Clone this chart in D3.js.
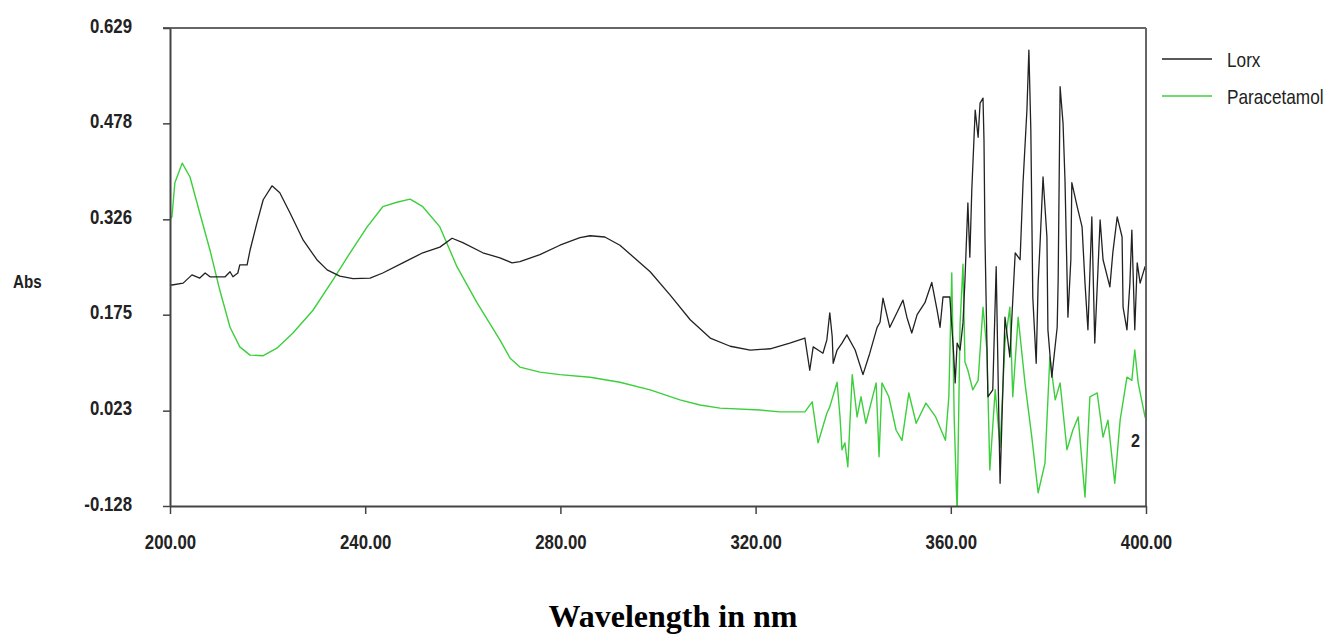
<!DOCTYPE html>
<html>
<head>
<meta charset="utf-8">
<script src="https://cdn.jsdelivr.net/npm/d3@7"></script>
<style>
  html, body { margin: 0; padding: 0; background: #fff; }
  svg { display: block; }
  .tick text, .lbl { font-family: "Liberation Sans", Arial, sans-serif; fill: #222; }
</style>
</head>
<body>
<svg id="chart" width="1332" height="636"></svg>
<script>
// ---------- data ----------
const seriesNames = ["Lorx", "Paracetamol"];

const lorxWavelength = [200.0,200.4,202.7,204.5,206.1,207.2,208.2,211.3,212.3,212.9,213.9,214.3,215.8,216.4,217.8,219.1,220.9,222.5,224.6,227.3,230.1,232.2,234.8,237.5,241.0,243.6,247.7,251.8,255.3,257.8,260.0,264.1,267.6,270.1,271.7,275.8,279.9,284.0,286.1,289.1,292.2,298.4,302.5,306.6,310.7,314.8,318.9,323.0,327.0,330.1,
  331.1,331.8,332.8,333.8,334.6,335.2,335.7,335.9,336.7,337.7,338.7,340.4,342.0,343.4,344.9,345.5,346.1,347.5,349.2,350.2,351.0,352.0,353.1,354.7,356.1,357.2,357.8,358.4,359.8,360.5,360.9,361.3,361.9,362.5,362.9,363.5,363.9,364.3,365.0,365.6,366.0,366.6,366.8,367.0,367.6,368.6,369.3,369.8,370.1,371.1,372.1,373.2,374.2,374.8,375.6,376.0,376.4,376.8,377.5,377.9,378.3,378.9,379.7,379.9,380.7,381.8,382.0,382.4,383.0,383.4,384.0,384.6,384.8,385.9,386.9,387.5,388.1,388.9,389.5,390.6,391.2,392.6,393.2,394.1,395.1,395.3,396.1,396.7,397.1,397.7,398.2,398.8,399.8,400.0];
const lorxAbs = [0.222,0.222,0.225,0.238,0.233,0.241,0.235,0.235,0.243,0.235,0.241,0.254,0.254,0.277,0.320,0.357,0.379,0.368,0.336,0.293,0.262,0.246,0.236,0.232,0.233,0.241,0.257,0.273,0.282,0.296,0.289,0.273,0.265,0.257,0.259,0.270,0.285,0.297,0.300,0.298,0.285,0.243,0.206,0.167,0.138,0.125,0.119,0.121,0.130,0.138,
  0.087,0.124,0.119,0.114,0.135,0.178,0.140,0.098,0.119,0.130,0.143,0.119,0.080,0.114,0.155,0.163,0.201,0.155,0.182,0.198,0.171,0.146,0.175,0.194,0.226,0.182,0.155,0.203,0.203,0.124,0.067,0.130,0.119,0.162,0.230,0.352,0.266,0.372,0.499,0.456,0.510,0.518,0.452,0.298,0.045,0.056,0.251,0.030,-0.092,0.171,0.108,0.273,0.262,0.384,0.499,0.594,0.467,0.203,0.098,0.225,0.289,0.393,0.298,0.151,0.076,0.155,0.230,0.536,0.478,0.388,0.171,0.262,0.384,0.346,0.314,0.225,0.151,0.330,0.130,0.325,0.262,0.219,0.273,0.330,0.298,0.187,0.151,0.225,0.309,0.151,0.257,0.225,0.251,0.245];

const paraWavelength = [200.0,200.4,201.0,202.5,204.1,206.1,208.2,210.2,212.3,214.3,216.4,219.1,221.9,225.2,229.3,233.4,236.9,240.4,243.6,246.5,249.2,251.8,255.3,258.8,262.9,267.6,269.7,271.7,275.8,279.9,286.1,292.2,298.4,304.5,308.6,312.7,320.9,325.0,330.1,
  331.6,332.8,334.6,335.2,336.7,337.3,337.7,338.3,338.9,339.8,340.8,341.6,342.6,344.7,345.3,345.9,347.3,348.8,350.0,351.4,352.9,354.9,356.9,358.9,359.6,360.2,360.7,361.3,361.9,362.5,362.9,363.5,364.5,365.6,366.6,367.4,368.0,369.1,370.1,371.1,372.1,372.7,373.8,375.2,376.6,377.9,379.3,380.3,381.4,382.4,383.8,385.0,386.1,387.5,388.5,390.0,391.2,392.2,393.6,394.7,396.1,397.1,397.7,398.4,399.8,400.0];
const paraAbs = [0.326,0.330,0.384,0.415,0.393,0.336,0.277,0.214,0.155,0.124,0.111,0.110,0.122,0.146,0.182,0.230,0.273,0.314,0.346,0.353,0.358,0.346,0.314,0.251,0.194,0.135,0.106,0.092,0.084,0.080,0.076,0.068,0.056,0.040,0.032,0.027,0.024,0.021,0.021,
  0.037,-0.028,0.019,0.029,0.068,0.013,-0.039,-0.028,-0.066,0.080,0.013,0.045,0.003,0.067,-0.050,0.067,0.045,-0.008,-0.024,0.051,0.003,0.035,0.013,-0.024,0.045,0.241,0.010,-0.140,0.160,0.255,0.100,0.087,0.056,0.071,0.187,0.119,-0.071,0.056,-0.035,0.130,0.187,0.045,0.171,0.067,-0.019,-0.107,-0.060,0.108,0.040,0.067,-0.039,-0.008,0.013,-0.114,0.045,0.051,-0.019,0.008,-0.092,0.008,0.076,0.071,0.119,0.067,0.013,0.010];

const yTickValues = [-0.128, 0.023, 0.175, 0.326, 0.478, 0.629];
const yTickLabels = ["-0.128", "0.023", "0.175", "0.326", "0.478", "0.629"];
const xTickValues = [200, 240, 280, 320, 360, 400];
const xTickLabels = ["200.00", "240.00", "280.00", "320.00", "360.00", "400.00"];

// ---------- layout ----------
const plot = { left: 170, top: 28, right: 1146, bottom: 506 };
const colors = { Lorx: "#222222", Paracetamol: "#3ccf3c" };

const svg = d3.select("#chart");
const x = d3.scaleLinear().domain([200, 400]).range([plot.left, plot.right]);
const y = d3.scaleLinear().domain([-0.128, 0.629]).range([plot.bottom, plot.top]);

// narrow the glyphs (the original uses a condensed bitmap font)
function narrow(sel, f) {
  sel.each(function () {
    const w = this.getComputedTextLength();
    d3.select(this).attr("textLength", w * f).attr("lengthAdjust", "spacingAndGlyphs");
  });
}

svg.append("defs").append("clipPath").attr("id", "clip")
  .append("rect").attr("x", plot.left).attr("y", plot.top)
  .attr("width", plot.right - plot.left).attr("height", plot.bottom - plot.top);

const line = d3.line().x(d => x(d[0])).y(d => y(d[1]));
const lorx = d3.zip(lorxWavelength, lorxAbs);
const para = d3.zip(paraWavelength, paraAbs);

const g = svg.append("g").attr("clip-path", "url(#clip)");
g.append("path").datum(para).attr("d", line)
  .attr("fill", "none").attr("stroke", colors.Paracetamol).attr("stroke-width", 1.4).attr("stroke-linejoin", "round");
g.append("path").datum(lorx).attr("d", line)
  .attr("fill", "none").attr("stroke", colors.Lorx).attr("stroke-width", 1.3).attr("stroke-linejoin", "round");

// frame: top and right
svg.append("line").attr("x1", plot.left - 7).attr("x2", plot.right).attr("y1", plot.top).attr("y2", plot.top)
  .attr("stroke", "#333").attr("stroke-width", 1.5);
svg.append("line").attr("x1", plot.right).attr("x2", plot.right).attr("y1", plot.top).attr("y2", plot.bottom)
  .attr("stroke", "#666").attr("stroke-width", 2);

// axes
const yAxis = d3.axisLeft(y).tickValues(yTickValues)
  .tickFormat((d, i) => yTickLabels[i]).tickSize(7).tickPadding(31).tickSizeOuter(0);
const ya = svg.append("g").attr("transform", `translate(${plot.left},0)`).call(yAxis);
ya.select(".domain").attr("stroke", "#444").attr("stroke-width", 2);
ya.selectAll(".tick line").attr("stroke", "#444").attr("stroke-width", 1.5);
ya.selectAll(".tick text").attr("font-size", 21).attr("dy", "0.2em").attr("font-weight", "bold")
  .call(narrow, 0.8);

const xAxis = d3.axisBottom(x).tickValues(xTickValues)
  .tickFormat((d, i) => xTickLabels[i]).tickSize(8).tickPadding(20).tickSizeOuter(0);
const xa = svg.append("g").attr("transform", `translate(0,${plot.bottom})`).call(xAxis);
xa.select(".domain").attr("stroke", "#444").attr("stroke-width", 2);
xa.selectAll(".tick line").attr("stroke", "#444").attr("stroke-width", 1.5);
xa.selectAll(".tick text").attr("font-size", 21).attr("font-weight", "bold")
  .call(narrow, 0.8);

// axis titles
svg.append("text").attr("class", "lbl").attr("x", 13).attr("y", 288)
  .attr("font-size", 19).attr("font-weight", "bold").text("Abs").call(narrow, 0.8);
svg.append("text").attr("x", 673).attr("y", 627).attr("text-anchor", "middle")
  .attr("font-family", "'Liberation Serif', 'Times New Roman', serif")
  .attr("font-weight", "bold").attr("font-size", 32).attr("fill", "#000")
  .text("Wavelength in nm");

// annotation "2"
svg.append("text").attr("class", "lbl").attr("x", 1131).attr("y", 447)
  .attr("font-size", 19).attr("font-weight", "bold").text("2").call(narrow, 0.85);

// legend
const legend = svg.append("g");
seriesNames.forEach((name, i) => {
  const ly = 59 + i * 37;
  legend.append("line").attr("x1", 1162).attr("x2", 1212).attr("y1", ly).attr("y2", ly)
    .attr("stroke", colors[name]).attr("stroke-width", 1.5);
  legend.append("g").attr("transform", `translate(1227,${ly + 8}) scale(0.82,1)`)
    .append("text").attr("class", "lbl").attr("x", 0).attr("y", 0)
    .attr("font-size", 21).text(name);
});
</script>
</body>
</html>
